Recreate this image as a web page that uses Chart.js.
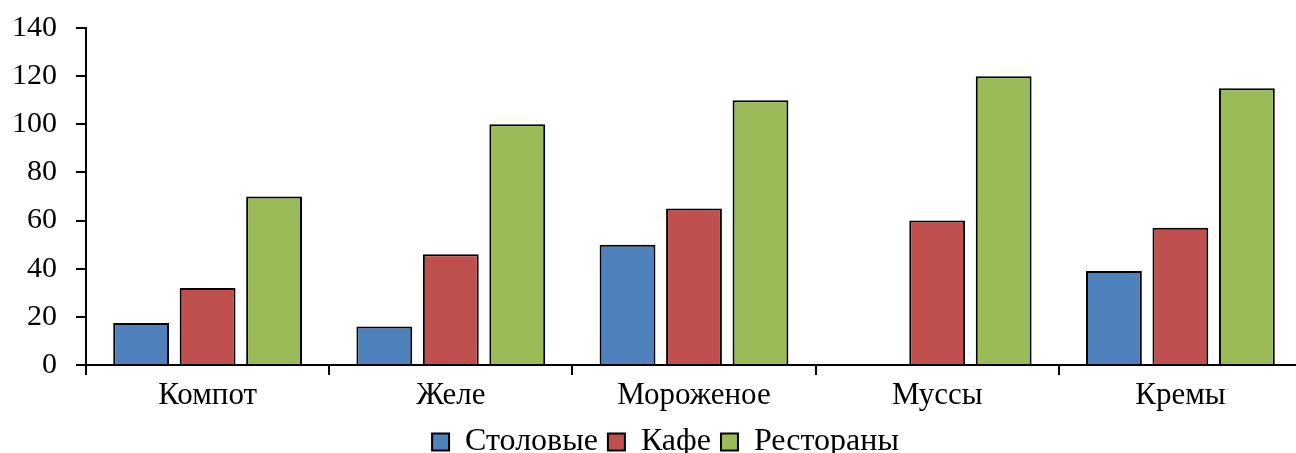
<!DOCTYPE html>
<html>
<head>
<meta charset="utf-8">
<script src="https://cdn.jsdelivr.net/npm/chart.js@4.4.0/dist/chart.umd.min.js"></script>
<style>
  html, body { margin: 0; padding: 0; background: #fff; overflow: hidden; }
  #wrap { width: 1302px; height: 453px; }
</style>
</head>
<body>
<div id="wrap"><canvas id="chart"></canvas></div>
<script>
const categories = ["Компот", "Желе", "Мороженое", "Муссы", "Кремы"];
const stolovye = [17.5, 16, 50, 0, 39];
const kafe = [32, 46, 65, 60, 57];
const restorany = [70, 100, 110, 120, 115];
const yTicks = [0, 20, 40, 60, 80, 100, 120, 140];

const family = "'Liberation Serif', 'Times New Roman', serif";

// nudge the legend a bit to the right, like in the original
const legendShift = {
  id: "legendShift",
  afterLayout(chart) {
    if (chart.legend) chart.legend.left += 36;
  },
};

const ctx = document.getElementById("chart").getContext("2d");
new Chart(ctx, {
  type: "bar",
  data: {
    labels: categories,
    datasets: [
      { label: "Столовые", data: stolovye, backgroundColor: "#4F81BD" },
      { label: "Кафе", data: kafe, backgroundColor: "#C0504D" },
      { label: "Рестораны", data: restorany, backgroundColor: "#9BBB59" },
    ].map((d) => ({
      ...d,
      borderColor: "#000",
      borderWidth: 2,
      borderSkipped: "bottom",
      categoryPercentage: 0.82,
      barPercentage: 0.84,
    })),
  },
  plugins: [legendShift],
  options: {
    responsive: true,
    maintainAspectRatio: false,
    animation: false,
    layout: { padding: { top: 28, left: -7, right: 0, bottom: -15 } },
    plugins: {
      tooltip: { enabled: false },
      legend: {
        position: "bottom",
        labels: {
          color: "#000",
          font: { family: family, size: 32, lineHeight: 0.9 },
          boxWidth: 17,
          boxHeight: 17,
          padding: 10,
        },
      },
    },
    scales: {
      x: {
        grid: {
          drawOnChartArea: false,
          drawTicks: true,
          tickLength: 10,
          color: "#000",
          lineWidth: 2,
        },
        border: { color: "#000", width: 2 },
        ticks: { color: "#000", font: { family: family, size: 31, lineHeight: 1.0 }, padding: 5 },
      },
      y: {
        min: 0,
        max: 140,
        afterBuildTicks: (axis) => {
          axis.ticks = yTicks.map((v) => ({ value: v }));
        },
        // the tick padding would otherwise be added above the top label
        afterFit: (axis) => {
          axis.paddingTop = 0;
          axis.paddingBottom = 0;
        },
        grid: {
          drawOnChartArea: false,
          drawTicks: true,
          tickLength: 10,
          color: "#000",
          lineWidth: 2,
        },
        border: { color: "#000", width: 2 },
        ticks: { color: "#000", font: { family: family, size: 30, lineHeight: 1.0 }, padding: 19 },
      },
    },
  },
});
</script>
</body>
</html>
